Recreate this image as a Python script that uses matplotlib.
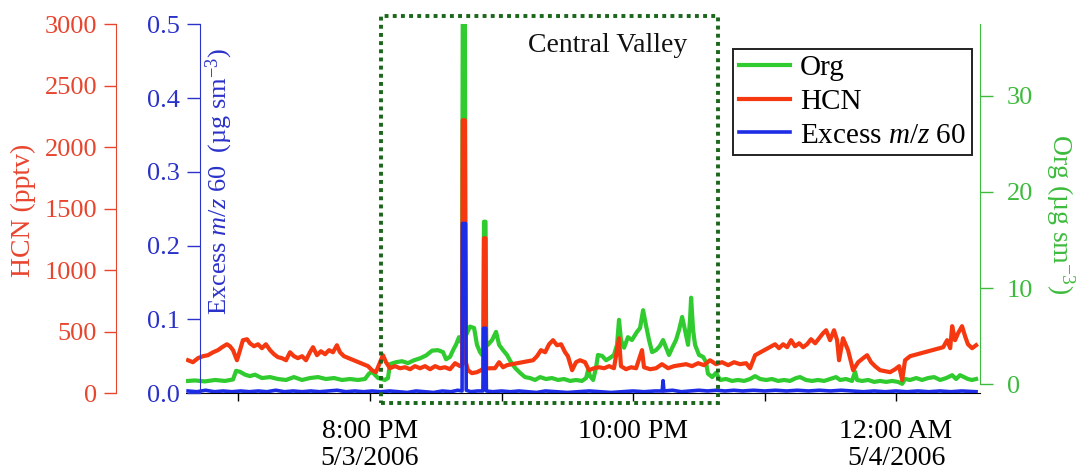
import pandas as pd
import matplotlib
matplotlib.use("Agg")
from matplotlib import pyplot as plt
from matplotlib import dates as mdates
from matplotlib.patches import Rectangle
from matplotlib.transforms import blended_transform_factory

plt.rcParams['font.family'] = ['Liberation Serif', 'DejaVu Serif']
plt.rcParams['mathtext.fontset'] = 'custom'
plt.rcParams['mathtext.rm'] = 'Liberation Serif'
plt.rcParams['mathtext.it'] = 'Liberation Serif:italic'
plt.rcParams['font.size'] = 19

# minutes after 18:00 on 5/3/2006
hcn_min = [37.0, 39.2, 41.5, 43.8, 46.1, 48.4, 50.6, 52.5, 54.7, 56.1,
           57.5, 59.3, 60.7, 62.0, 63.9, 65.2, 67.1, 68.9, 70.7, 72.5,
           74.4, 76.2, 78.0, 79.8, 81.7, 83.5, 85.3, 87.1, 89.0, 90.8,
           92.6, 94.0, 95.8, 97.6, 99.5, 101.3, 103.1, 104.9, 106.3, 108.1,
           119.1, 120.9, 122.7, 124.6, 125.9, 127.3, 129.1, 131.4, 133.7, 136.0,
           138.3, 140.5, 142.8, 145.1, 147.4, 149.7, 151.9, 154.2, 156.5, 158.8, 161.1,
           162.0, 162.3, 163.3, 163.6, 164.7, 166.5, 168.8, 170.6, 171.7, 172.0,
           172.7, 173.0, 174.8, 177.0, 178.9, 180.7, 182.5, 184.8,
           194.4, 196.2, 198.0, 199.9, 201.7, 203.5, 205.3, 207.2, 209.0, 210.3,
           212.2, 214.0, 215.8, 218.1, 219.9, 222.2, 224.5, 226.8, 229.1, 231.3,
           233.6, 234.5, 236.8, 239.1, 241.4, 244.1, 245.0, 247.8, 250.5, 253.2,
           256.0, 258.7, 261.5, 264.2, 266.9, 269.7, 272.4, 275.1, 277.9, 280.6,
           283.4, 286.1, 288.8, 291.6, 293.4, 295.7,
           304.8, 306.6, 308.5, 310.3, 312.1, 313.9, 315.8, 317.6, 319.4, 321.2,
           323.1, 324.9, 326.7, 328.1, 329.9, 331.7, 333.1, 334.0, 335.8, 338.1,
           340.4, 342.7, 345.0, 346.8, 348.6, 350.4, 352.7, 355.0, 357.3, 359.6,
           361.4, 362.8, 364.1, 366.4,
           381.5, 383.3, 384.7, 385.6, 386.9, 388.3, 390.1, 391.5, 392.8, 394.7, 396.5]
hcn_pptv = [268, 252, 285, 301, 309, 333, 350, 374, 398, 382,
            350, 268, 350, 431, 439, 406, 382, 398, 366, 398,
            350, 317, 293, 285, 268, 333, 301, 285, 301, 268,
            333, 374, 309, 341, 317, 350, 333, 390, 333, 301,
            220, 187, 171, 252, 309, 252, 203, 220, 203, 211,
            195, 220, 203, 220, 195, 220, 203, 211, 195, 244, 220,
            230, 2220, 2220, 260, 187, 163, 171, 187, 200, 1260,
            1260, 200, 203, 203, 252, 211, 228, 236,
            268, 301, 350, 333, 398, 431, 390, 398, 333, 301,
            187, 252, 268, 252, 187, 203, 211, 203, 220, 203,
            447, 220, 195, 211, 203, 350, 211, 195, 203, 236,
            203, 220, 228, 236, 220, 244, 228, 268, 236, 252,
            228, 252, 236, 244, 203, 309,
            398, 366, 398, 374, 431, 382, 406, 374, 398, 439,
            406, 447, 488, 512, 431, 512, 431, 268, 447, 350,
            187, 252, 285, 309, 252, 220, 187, 179, 171, 195,
            220, 106, 268, 301,
            374, 431, 366, 545, 431, 488, 545, 463, 398, 366, 390]

org_min = [37.0, 40.1, 44.7, 49.3, 53.8, 57.5, 58.9, 60.7, 63.0, 65.2,
           67.5, 70.7, 74.4, 78.0, 81.7, 85.3, 89.0, 92.6, 96.3, 99.9,
           103.6, 107.2, 110.9, 114.5, 117.7, 119.5, 120.9, 123.7, 126.8, 128.2,
           129.1, 131.9, 134.6, 137.3, 140.1, 142.8, 145.6, 148.3, 151.0, 153.3,
           154.7, 156.5, 157.9, 159.2, 160.6, 161.5,
           162.0, 162.3, 163.3, 163.6, 165.6, 167.5, 168.8, 170.2, 171.1, 171.7,
           172.0, 172.7, 173.0, 173.8, 175.7, 177.5, 178.9, 180.7, 182.5, 184.3,
           186.2, 188.4, 190.7, 193.0, 195.3, 197.6, 200.3, 203.0, 205.8, 208.5,
           211.3, 214.0, 216.7, 218.6, 219.5, 220.4, 221.8, 223.1, 224.0, 225.9,
           227.7, 229.5, 231.3, 232.7, 233.6, 234.5, 235.9, 237.7, 239.5, 241.8,
           243.2, 244.6, 245.9, 247.3, 248.7, 250.5, 252.3, 253.7, 255.1, 256.4,
           258.3, 259.6, 261.0, 262.4, 263.7, 265.1, 266.0, 266.5, 267.4, 268.3,
           270.1, 272.0, 273.3, 274.2, 276.1, 277.9, 279.7, 282.4, 285.2, 287.9,
           290.7, 293.4, 295.7, 298.0, 300.7, 303.4, 306.2, 308.9, 311.6, 314.4,
           316.2, 318.9, 321.7, 324.4, 327.2, 329.9, 332.6, 334.5, 337.2, 339.9,
           341.3, 342.2, 344.5, 347.3, 350.0, 352.7, 355.5, 358.2, 360.9, 362.8,
           364.1, 366.4, 369.2, 371.9, 374.6, 377.4, 380.1, 382.9, 385.6, 387.4,
           389.2, 391.0, 392.8, 394.7, 396.5]
org_ug = [0.35, 0.4, 0.3, 0.45, 0.35, 0.5, 1.4, 1.3, 1.0, 0.85,
          1.0, 0.65, 0.75, 0.55, 0.45, 0.75, 0.45, 0.65, 0.75, 0.55,
          0.65, 0.45, 0.55, 0.45, 0.55, 1.1, 1.3, 0.65, 0.45, 0.65,
          2.1, 2.3, 2.4, 2.2, 2.5, 2.7, 3.0, 3.5, 3.55, 3.35,
          2.6, 2.85, 3.55, 4.1, 4.9, 4.4,
          4.4, 37.4, 37.4, 5.0, 6.0, 5.85, 4.1, 3.35, 3.05, 3.2,
          16.9, 16.9, 4.0, 4.1, 4.6, 5.45, 4.1, 3.55, 3.05, 2.3,
          1.7, 1.2, 0.75, 0.65, 0.45, 0.75, 0.55, 0.65, 0.45, 0.55,
          0.35, 0.45, 0.35, 0.65, 1.5, 0.85, 0.45, 1.7, 3.05, 2.95,
          2.5, 2.75, 3.05, 4.1, 6.7, 4.6, 3.8, 4.9, 4.6, 5.45,
          5.85, 7.7, 6.15, 4.6, 3.35, 3.55, 4.0, 4.6, 3.8, 3.05,
          4.0, 4.6, 5.65, 7.0, 5.65, 4.1, 6.7, 9.0, 5.65, 4.1,
          3.05, 2.85, 2.3, 1.1, 0.75, 1.2, 0.45, 0.55, 0.35, 0.45,
          0.35, 0.55, 0.85, 0.55, 0.45, 0.55, 0.35, 0.45, 0.35, 0.65,
          0.75, 0.45, 0.35, 0.45, 0.35, 0.55, 0.75, 0.45, 0.55, 0.35,
          1.3, 0.45, 0.35, 0.45, 0.25, 0.35, 0.25, 0.35, 0.25, 0.05,
          0.55, 0.45, 0.65, 0.45, 0.65, 0.75, 0.45, 0.65, 0.95, 0.55,
          0.95, 0.75, 0.55, 0.45, 0.55]

m60_min = [37, 41, 45, 49, 53, 57, 61, 65, 69, 73,
           77, 81, 85, 89, 93, 97, 101, 105, 109, 113,
           117, 121, 125, 129, 133, 137, 141, 145, 149, 153,
           157, 160, 162.0, 162.2, 163.6, 163.9, 166, 169, 171.5, 171.8,
           172.8, 173.1, 176, 180, 184, 188, 192, 196, 200, 205,
           210, 215, 220, 225, 230, 235, 240, 245, 250, 253.3,
           253.7, 254.1, 258, 262, 266, 270, 274, 278, 282, 286,
           290, 295, 300, 305, 310, 315, 320, 325, 330, 335,
           340, 345, 350, 355, 360, 365, 370, 375, 380, 385,
           390, 396.5]
m60_ug = [0.003, 0.002, 0.004, 0.002, 0.003, 0.002, 0.003, 0.002, 0.003, 0.002,
          0.004, 0.002, 0.003, 0.002, 0.003, 0.002, 0.003, 0.004, 0.002, 0.003,
          0.002, 0.003, 0.002, 0.003, 0.002, 0.001, 0.003, 0.002, 0.001, 0.003,
          0.002, 0.004, 0.003, 0.23, 0.23, 0.004, 0.002, 0.003, 0.003, 0.088,
          0.088, 0.003, 0.002, 0.003, 0.002, 0.003, 0.002, 0.001, 0.003, 0.002,
          0.001, 0.002, 0.003, 0.002, 0.001, 0.002, 0.003, 0.002, 0.003, 0.003,
          0.017, 0.003, 0.004, 0.002, 0.003, 0.004, 0.003, 0.004, 0.003, 0.004,
          0.003, 0.004, 0.003, 0.004, 0.003, 0.004, 0.003, 0.004, 0.003, 0.004,
          0.003, 0.002, 0.003, 0.002, 0.003, 0.002, 0.003, 0.002, 0.003, 0.002,
          0.003, 0.002]

tick_times = ['2006-05-03 19:00', '2006-05-03 20:00', '2006-05-03 21:00',
              '2006-05-03 22:00', '2006-05-03 23:00', '2006-05-04 00:00']
tick_labels = ['', '8:00 PM\n5/3/2006', '', '10:00 PM', '', '12:00 AM\n5/4/2006']

start = pd.Timestamp('2006-05-03 18:00')
def to_time(minutes):
    return start + pd.to_timedelta(minutes, unit='min')

RED = '#f5380f'
RED_AX = '#e8452e'
GREEN = '#2fcb2f'
GREEN_AX = '#3dbb3d'
BLUE = '#1d2de6'
BLUE_AX = '#2b32c9'
BOX = '#1a661a'

fig = plt.figure(figsize=(10.84, 4.71), dpi=100)
ax = fig.add_axes([186 / 1084, 1 - 393.2 / 471, 794 / 1084, 368.9 / 471])
ax_b = ax.twinx()
ax_g = ax.twinx()
ax_g.set_zorder(1)
ax.set_zorder(2)
ax_b.set_zorder(3)
ax.patch.set_visible(False)
ax_b.patch.set_visible(False)

l_org, = ax_g.plot(to_time(org_min), org_ug, color=GREEN, lw=3.0, label='Org')
l_hcn, = ax.plot(to_time(hcn_min), hcn_pptv, color=RED, lw=3.0, label='HCN')
l_m60, = ax_b.plot(to_time(m60_min), m60_ug, color=BLUE, lw=2.6, label='Excess $m/z$ 60')

ax.set_xlim(to_time(36.05), to_time(398.3))
ax.set_ylim(0, 3000)
ax_b.set_ylim(0, 0.5)
ax_g.set_ylim(-0.925, 37.42)

# red HCN axis, offset left
for s in ['top', 'right']:
    ax.spines[s].set_visible(False)
ax.spines['left'].set_position(('outward', 70 * 0.72))
ax.spines['left'].set_color(RED_AX)
ax.spines['bottom'].set_color('black')
ax.set_yticks([0, 500, 1000, 1500, 2000, 2500, 3000])
ax.tick_params(axis='y', colors=RED_AX, labelcolor=RED_AX, length=8.6, width=1, pad=5)
ax.set_ylabel('HCN (pptv)', color=RED_AX, va='center', fontsize=20)
ax.yaxis.set_label_coords((23 - 186) / 794, 0.495)

# blue m/z 60 axis, just inside the plot
for s in ['top', 'right', 'bottom']:
    ax_b.spines[s].set_visible(False)
ax_b.yaxis.set_ticks_position('left')
ax_b.yaxis.set_label_position('left')
ax_b.spines['left'].set_position(('axes', 14 / 794))
ax_b.spines['left'].set_color(BLUE_AX)
ax_b.set_yticks([0.0, 0.1, 0.2, 0.3, 0.4, 0.5])
ax_b.set_yticklabels(['0.0', '0.1', '0.2', '0.3', '0.4', '0.5'])
ax_b.tick_params(axis='y', colors=BLUE_AX, labelcolor=BLUE_AX, length=9.4, width=1, pad=5)
ax_b.set_ylabel('Excess $m/z$ 60  (µg sm$^{-3}$)', color=BLUE_AX, va='center')
ax_b.yaxis.set_label_coords((219 - 186) / 794, (393 - 181) / 369)

# green Org axis on right
for s in ['top', 'left', 'bottom']:
    ax_g.spines[s].set_visible(False)
ax_g.spines['right'].set_color(GREEN_AX)
ax_g.spines['right'].set_bounds(0, 37.42)
ax_g.set_yticks([0, 10, 20, 30])
ax_g.tick_params(axis='y', colors=GREEN_AX, labelcolor=GREEN_AX, length=9.4, width=1, pad=10)
ax_g.set_ylabel('Org (µg sm$^{-3}$)', color=GREEN_AX, rotation=270, va='center', fontsize=20)
ax_g.yaxis.set_label_coords((1060 - 186) / 794, (393 - 214) / 369)

# time axis
ax.set_xticks(pd.to_datetime(tick_times))
ax.set_xticklabels(tick_labels)
ax.tick_params(axis='x', direction='out', length=6, width=1, pad=12.5, colors='black',
               labelsize=20)
for lbl in ax.get_xticklabels():
    lbl.set_linespacing(1.13)

# Central Valley box
trans = blended_transform_factory(ax_b.transData, ax_b.transAxes)
x0 = mdates.date2num(to_time(124.9))
x1 = mdates.date2num(to_time(278.8))
box = Rectangle((x0, -0.027), x1 - x0, 1.0217 + 0.027, transform=trans, fill=False,
                edgecolor=BOX, linestyle=(0, (1, 1.1)), lw=2.8, clip_on=False, zorder=10)
ax_b.add_patch(box)
ax_b.text(mdates.date2num(to_time(228.4)), (393 - 52) / 369, 'Central Valley', transform=trans,
          ha='center', va='baseline', color='#111111', fontsize=20)

leg = ax_b.legend(handles=[l_org, l_hcn, l_m60], loc='upper left',
                  bbox_to_anchor=(733 / 1084, 1 - 49 / 471), bbox_transform=fig.transFigure,
                  fancybox=False, edgecolor='#222222', framealpha=1, borderaxespad=0,
                  handlelength=1.75, handletextpad=0.35, labelspacing=0.25, borderpad=0.2,
                  fontsize=21)
leg.get_frame().set_linewidth(1.4)

fig.savefig('out.png', dpi=100)
